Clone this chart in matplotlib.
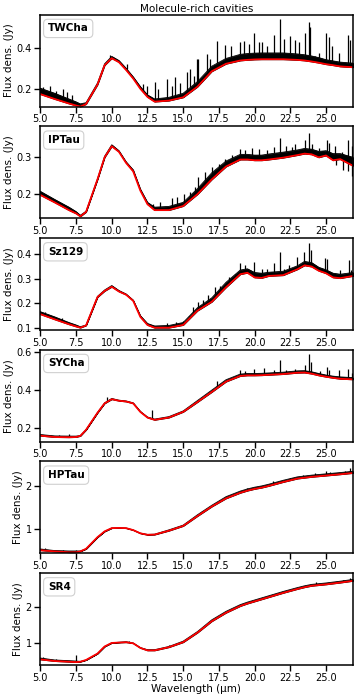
import numpy as np
import matplotlib
matplotlib.use("Agg")
import matplotlib.pyplot as plt

# wavelength grid (micron) the values below were read on
wl = [4.9, 6, 7, 7.5, 7.8, 8.2, 9, 9.5, 10, 10.5, 11, 11.5, 12, 12.5, 13, 14, 15,
      16, 17, 18, 19, 19.5, 20, 20.5, 21, 22, 23, 23.5, 24, 24.5, 25, 25.5, 26, 26.9]

names = ["TWCha", "IPTau", "Sz129", "SYCha", "HPTau", "SR4"]

# red model curves (Jy)
model_twcha = [0.176, 0.150, 0.128, 0.118, 0.113, 0.125, 0.22, 0.315, 0.349, 0.33, 0.292, 0.25,
               0.2, 0.16, 0.137, 0.142, 0.158, 0.21, 0.285, 0.322, 0.338, 0.341, 0.343, 0.344,
               0.344, 0.344, 0.341, 0.338, 0.333, 0.327, 0.32, 0.315, 0.309, 0.305]
model_iptau = [0.2, 0.178, 0.157, 0.148, 0.140, 0.152, 0.24, 0.30, 0.33, 0.315, 0.285, 0.262,
               0.21, 0.173, 0.157, 0.157, 0.168, 0.2, 0.24, 0.275, 0.294, 0.294, 0.292, 0.292,
               0.294, 0.299, 0.306, 0.31, 0.308, 0.300, 0.305, 0.292, 0.295, 0.277]
model_sz129 = [0.158, 0.135, 0.115, 0.106, 0.101, 0.11, 0.225, 0.25, 0.267, 0.248, 0.235, 0.21,
               0.145, 0.112, 0.101, 0.101, 0.112, 0.17, 0.206, 0.265, 0.318, 0.324, 0.305, 0.303,
               0.311, 0.314, 0.338, 0.354, 0.349, 0.332, 0.322, 0.305, 0.302, 0.311]
model_sycha = [0.16, 0.152, 0.151, 0.152, 0.158, 0.19, 0.28, 0.33, 0.352, 0.344, 0.34, 0.33,
               0.285, 0.255, 0.243, 0.255, 0.285, 0.337, 0.39, 0.445, 0.475, 0.478, 0.478, 0.479,
               0.481, 0.485, 0.492, 0.493, 0.487, 0.478, 0.471, 0.465, 0.46, 0.457]
model_hptau = [0.52, 0.49, 0.47, 0.47, 0.49, 0.55, 0.82, 0.955, 1.03, 1.035, 1.03, 0.985,
               0.91, 0.875, 0.88, 0.97, 1.08, 1.31, 1.53, 1.72, 1.85, 1.9, 1.94, 1.97,
               2.01, 2.10, 2.18, 2.2, 2.22, 2.235, 2.25, 2.265, 2.28, 2.31]
model_sr4 = [0.54, 0.49, 0.47, 0.46, 0.47, 0.52, 0.70, 0.90, 1.0, 1.01, 1.02, 0.99,
             0.86, 0.79, 0.79, 0.88, 1.02, 1.29, 1.61, 1.85, 2.04, 2.11, 2.17, 2.23,
             2.29, 2.41, 2.52, 2.57, 2.61, 2.63, 2.65, 2.675, 2.70, 2.75]

# upper edge of the dense black spectrum
obs_twcha = [0.205, 0.178, 0.15, 0.136, 0.126, 0.132, 0.228, 0.322, 0.358, 0.338, 0.30, 0.258,
             0.21, 0.17, 0.15, 0.158, 0.178, 0.235, 0.31, 0.348, 0.368, 0.372, 0.374, 0.375,
             0.375, 0.375, 0.37, 0.366, 0.36, 0.352, 0.342, 0.336, 0.33, 0.325]
obs_iptau = [0.21, 0.186, 0.165, 0.153, 0.143, 0.154, 0.242, 0.303, 0.334, 0.318, 0.288, 0.266,
             0.214, 0.178, 0.165, 0.167, 0.178, 0.215, 0.258, 0.29, 0.308, 0.308, 0.306, 0.306,
             0.309, 0.314, 0.32, 0.324, 0.322, 0.316, 0.318, 0.31, 0.31, 0.3]
obs_sz129 = [0.168, 0.145, 0.122, 0.112, 0.105, 0.112, 0.228, 0.254, 0.272, 0.252, 0.238, 0.213,
             0.15, 0.118, 0.108, 0.11, 0.122, 0.182, 0.222, 0.285, 0.335, 0.34, 0.325, 0.322,
             0.326, 0.33, 0.352, 0.37, 0.365, 0.346, 0.336, 0.322, 0.318, 0.325]
obs_sycha = [0.166, 0.158, 0.157, 0.157, 0.16, 0.192, 0.282, 0.333, 0.356, 0.347, 0.343, 0.333,
             0.288, 0.258, 0.247, 0.26, 0.29, 0.345, 0.4, 0.455, 0.485, 0.488, 0.488, 0.489,
             0.491, 0.495, 0.502, 0.503, 0.497, 0.488, 0.48, 0.474, 0.47, 0.466]
obs_hptau = [0.55, 0.51, 0.5, 0.5, 0.5, 0.55, 0.82, 0.955, 1.035, 1.04, 1.035, 0.99,
             0.915, 0.885, 0.89, 0.99, 1.1, 1.34, 1.56, 1.76, 1.89, 1.94, 1.98, 2.01,
             2.05, 2.14, 2.22, 2.24, 2.26, 2.275, 2.29, 2.305, 2.32, 2.35]
obs_sr4 = [0.58, 0.52, 0.5, 0.49, 0.48, 0.52, 0.70, 0.9, 1.005, 1.02, 1.035, 1.0,
           0.87, 0.81, 0.81, 0.9, 1.05, 1.32, 1.65, 1.89, 2.08, 2.15, 2.21, 2.27,
           2.33, 2.45, 2.56, 2.61, 2.65, 2.67, 2.69, 2.715, 2.74, 2.79]

# emission lines / spikes: wavelength and peak flux
lines_twcha_wl = [5.2, 5.7, 6.1, 6.6, 6.9, 7.2, 9.9, 11.05, 12.22, 12.46, 13.04, 13.27, 13.86,
                  14.2, 14.44, 14.79, 15.26, 15.5, 15.77, 15.96, 16.07, 16.66, 16.89, 17.36,
                  17.94, 18.36, 19.0, 19.23, 19.58, 19.93, 20.28, 20.51, 20.86, 21.33, 21.8,
                  22.03, 22.5, 22.85, 23.08, 23.5, 23.78, 23.9, 24.25, 24.48, 25.02, 25.19,
                  25.42, 25.93, 26.54, 26.7]
lines_twcha_f = [0.21, 0.215, 0.19, 0.198, 0.183, 0.17, 0.365, 0.321, 0.223, 0.215, 0.232, 0.198,
                 0.248, 0.215, 0.255, 0.23, 0.28, 0.297, 0.26, 0.345, 0.345, 0.37, 0.345, 0.431,
                 0.416, 0.411, 0.428, 0.431, 0.419, 0.473, 0.428, 0.428, 0.411, 0.463, 0.539,
                 0.444, 0.457, 0.436, 0.428, 0.473, 0.526, 0.501, 0.362, 0.375, 0.473, 0.452,
                 0.411, 0.375, 0.463, 0.436]
lines_iptau_wl = [12.46, 12.92, 13.4, 14.21, 14.6, 15.03, 15.5, 15.84, 16.07, 16.54, 17.0, 17.48,
                  17.94, 18.41, 19.0, 19.35, 19.81, 20.28, 20.86, 21.33, 21.8, 22.2, 22.62,
                  22.85, 23.5, 23.83, 24.0, 24.48, 25.07, 25.2, 25.65, 26.12, 26.54, 26.82,
                  25.7, 26.2, 26.55, 26.85]
lines_iptau_f = [0.183, 0.174, 0.178, 0.191, 0.192, 0.2, 0.205, 0.22, 0.246, 0.26, 0.274, 0.283,
                 0.296, 0.305, 0.322, 0.32, 0.325, 0.322, 0.32, 0.328, 0.351, 0.33, 0.328,
                 0.337, 0.346, 0.367, 0.337, 0.325, 0.346, 0.34, 0.33, 0.315, 0.346, 0.33,
                 0.278, 0.265, 0.262, 0.25]
lines_sz129_wl = [5.3, 6.5, 13.86, 14.5, 14.98, 15.4, 15.7, 16.07, 16.4, 16.77, 17.24, 17.6,
                  18.18, 18.6, 19.0, 19.35, 19.93, 20.51, 20.86, 21.33, 21.8, 22.03, 22.4,
                  22.97, 23.43, 23.83, 23.97, 24.95, 25.1, 26.0, 26.59, 26.78]
lines_sz129_f = [0.165, 0.14, 0.12, 0.125, 0.128, 0.15, 0.183, 0.206, 0.215, 0.233, 0.267, 0.27,
                 0.308, 0.32, 0.362, 0.355, 0.369, 0.34, 0.34, 0.362, 0.409, 0.34, 0.355,
                 0.389, 0.409, 0.443, 0.415, 0.382, 0.378, 0.334, 0.377, 0.334]
lines_sycha_wl = [6.3, 7.0, 9.7, 12.8, 14.6, 15.5, 16.4, 17.36, 17.94, 19.0, 19.35, 19.93, 20.63,
                  21.33, 21.8, 22.2, 22.85, 23.5, 23.83, 23.97, 24.6, 25.07, 25.19, 25.89,
                  26.54, 26.82]
lines_sycha_f = [0.165, 0.17, 0.364, 0.296, 0.28, 0.31, 0.37, 0.446, 0.455, 0.507, 0.5, 0.51,
                 0.516, 0.507, 0.56, 0.507, 0.51, 0.533, 0.59, 0.55, 0.5, 0.525, 0.505, 0.507,
                 0.51, 0.49]
lines_hptau_wl = [5.3, 6.6, 7.5, 16.3, 17.5, 19.5, 21.3, 22.5, 23.4, 24.2, 25.0, 25.3, 26.3, 26.7]
lines_hptau_f = [0.56, 0.53, 0.52, 1.42, 1.66, 1.95, 2.12, 2.2, 2.27, 2.3, 2.36, 2.33, 2.35, 2.42]
lines_sr4_wl = [5.2, 6.1, 7.5, 11.2, 14.0, 16.1, 17.5, 19.5, 21.2, 22.4, 23.4, 24.3, 25.3, 26.2, 26.7]
lines_sr4_f = [0.6, 0.55, 0.66, 1.06, 0.95, 1.36, 1.76, 2.15, 2.35, 2.5, 2.6, 2.72, 2.72, 2.76, 2.82]

models = [model_twcha, model_iptau, model_sz129, model_sycha, model_hptau, model_sr4]
observed = [obs_twcha, obs_iptau, obs_sz129, obs_sycha, obs_hptau, obs_sr4]
line_wl = [lines_twcha_wl, lines_iptau_wl, lines_sz129_wl, lines_sycha_wl, lines_hptau_wl, lines_sr4_wl]
line_f = [lines_twcha_f, lines_iptau_f, lines_sz129_f, lines_sycha_f, lines_hptau_f, lines_sr4_f]

ylims = [(0.113, 0.562), (0.135, 0.384), (0.092, 0.465), (0.128, 0.614), (0.447, 2.58), (0.38, 2.97)]
yticks = [[0.2, 0.4], [0.2, 0.3], [0.1, 0.2, 0.3, 0.4], [0.2, 0.4, 0.6], [1, 2], [1, 2]]

fig, axes = plt.subplots(6, 1, figsize=(3.57, 6.97), dpi=100)
fig.subplots_adjust(left=0.111, right=0.989, top=0.979, bottom=0.046, hspace=0.215)

for i, ax in enumerate(axes):
    x = np.array(wl)
    m = np.array(models[i])
    o = np.array(observed[i])
    # noisy spectrum: band plus individual spikes
    ax.fill_between(x, m, o, color="black", lw=0.6)
    ax.plot(x, o, color="black", lw=0.6)
    base = np.interp(line_wl[i], x, o)
    ax.vlines(line_wl[i], base, line_f[i], color="black", lw=0.9)
    ax.plot(x, m, color="red", lw=1.3)

    ax.set_xlim(4.95, 26.9)
    ax.set_ylim(*ylims[i])
    ax.set_yticks(yticks[i])
    ax.set_xticks([5, 7.5, 10, 12.5, 15, 17.5, 20, 22.5, 25])
    ax.xaxis.set_major_formatter(matplotlib.ticker.FormatStrFormatter("%.1f"))
    if i >= 4:
        ax.yaxis.set_major_formatter(matplotlib.ticker.FormatStrFormatter("%d"))
    ax.tick_params(labelsize=7, length=4, width=1, pad=1.5)
    for s in ax.spines.values():
        s.set_linewidth(1.1)
    ax.set_ylabel("Flux dens. (Jy)", fontsize=7.5, labelpad=2)
    ax.text(0.026, 0.85, names[i], transform=ax.transAxes, fontsize=7.5, fontweight="bold",
            va="center", ha="left",
            bbox=dict(boxstyle="round,pad=0.4", fc="white", ec="#d0d0d0", lw=0.8))

axes[0].set_title("Molecule-rich cavities", fontsize=7.5, pad=2)
axes[-1].set_xlabel("Wavelength (µm)", fontsize=7.5, labelpad=1)

fig.savefig("out.png", dpi=100)
